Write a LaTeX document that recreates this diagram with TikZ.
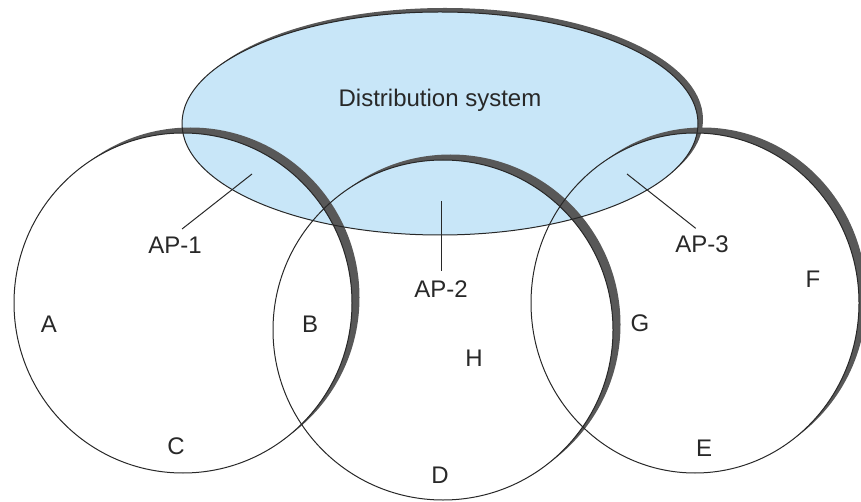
\documentclass[tikz,border=0pt]{standalone}
\usepackage{fontspec}
\setmainfont{Liberation Sans}
\usepackage{tikz}
\usetikzlibrary{positioning}

\definecolor{dsblue}{RGB}{200,230,248}
\definecolor{shadowgray}{RGB}{88,88,88}
\definecolor{inkgray}{RGB}{40,40,40}

\tikzset{
	edge/.style={draw=inkgray, line width=1pt},
	txt/.style={text=inkgray, inner sep=2pt, font=\fontsize{24}{28}\selectfont}
}

\begin{document}
\begin{tikzpicture}[x=1pt,y=-1pt]
	
	\useasboundingbox (0,0) rectangle (861,502);
	
	% Centres of the areas
	\coordinate (ds) at (440,123.5);
	\coordinate (bss1) at (183,303);
	\coordinate (bss2) at (443,330);
	\coordinate (bss3) at (695,303);
	
	% Fill distribution system
	\fill[dsblue] (ds) ellipse[x radius=258, y radius=111.5];
	
	% Shadow of distribution system
	\begin{scope}[even odd rule]
		\clip (-50,-50) rectangle (911,552) (ds) ellipse[x radius=258, y radius=111.5];
		\fill[shadowgray] ([shift={(5,-4)}]ds) ellipse[x radius=258, y radius=111.5];
	\end{scope}
	
	% Shadows of the cells
	\foreach \c/\rx/\ry in {bss1/169/170,bss2/170/170,bss3/164/170} {
		\begin{scope}[even odd rule]
			\clip (-50,-50) rectangle (911,552) (\c) ellipse[x radius=\rx, y radius=\ry];
			\fill[shadowgray] ([shift={(7.5,-5.5)}]\c) ellipse[x radius=\rx, y radius=\ry];
		\end{scope}
	}
	
	% Draw boundaries
	\draw[edge] (ds) ellipse[x radius=258, y radius=111.5];
	\foreach \c/\rx/\ry in {bss1/169/170,bss2/170/170,bss3/164/170}
		\draw[edge] (\c) ellipse[x radius=\rx, y radius=\ry];
	
	% Label distribution system
	\node[txt] (dslabel) at (440,100) {Distribution system};
	
	% Access points
	\coordinate (ap1) at (252,174);
	\coordinate (ap2) at (441,201);
	\coordinate (ap3) at (627,174);
	\node[txt] (ap1label) at (175,245) {AP-1};
	\node[txt] (ap2label) at (441,289) {AP-2};
	\node[txt] (ap3label) at (702,244) {AP-3};
	\draw[edge, shorten >=9pt] (ap1) -- (ap1label.north);
	\draw[edge, shorten >=7pt] (ap2) -- (ap2label.north);
	\draw[edge, shorten >=8pt] (ap3) -- (ap3label.north);
	
	% Stations
	\node[txt] (sta) at (49,324) {A};
	\node[txt] (stb) at (310,324) {B};
	\node[txt] (stc) at (176,446) {C};
	\node[txt] (std) at (440,475) {D};
	\node[txt] (ste) at (704,448) {E};
	\node[txt] (stf) at (813,279) {F};
	\node[txt] (stg) at (640,323) {G};
	\node[txt] (sth) at (474,358) {H};
	
\end{tikzpicture}
\end{document}
